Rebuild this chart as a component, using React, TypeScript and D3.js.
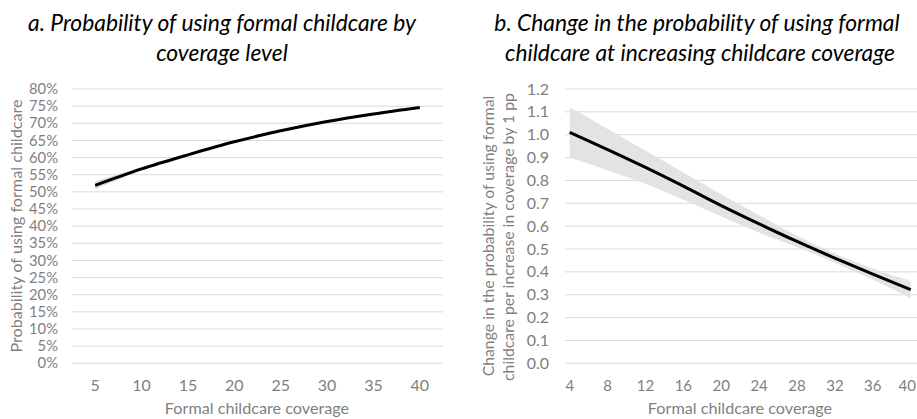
import * as d3 from "d3";

const FONT = "Lato, 'Open Sans', sans-serif";
const GREY = "#7f7f7f";

// panel a
const coverageA = [5, 10, 15, 20, 25, 30, 35, 40];
const probLine = [0.519, 0.567, 0.608, 0.646, 0.678, 0.705, 0.727, 0.746];
const probUpper = [0.530, 0.572, 0.611, 0.648, 0.679, 0.706, 0.728, 0.747];
const probLower = [0.508, 0.562, 0.605, 0.644, 0.677, 0.704, 0.726, 0.745];
const yTicksA = d3.range(0, 0.81, 0.05);

// panel b
const coverageB = [4, 8, 12, 16, 20, 24, 28, 32, 36, 40];
const effLine = [1.01, 0.935, 0.857, 0.775, 0.69, 0.61, 0.533, 0.46, 0.39, 0.322];
const effUpper = [1.12, 1.025, 0.93, 0.835, 0.74, 0.648, 0.558, 0.48, 0.415, 0.36];
const effLower = [0.9, 0.845, 0.785, 0.715, 0.642, 0.572, 0.508, 0.44, 0.365, 0.285];
const yTicksB = d3.range(0, 1.21, 0.1);
const xTicksB = [4, 8, 12, 16, 20, 24, 28, 32, 36, 40];

type Pt = { x: number; y: number; lo: number; hi: number };

function PanelA() {
  const x = d3.scaleLinear().domain([2.5, 42.5]).range([72, 443]);
  const y = d3.scaleLinear().domain([0, 0.8]).range([363.3, 89]);
  const pts: Pt[] = coverageA.map((c, i) => ({ x: c, y: probLine[i], lo: probLower[i], hi: probUpper[i] }));
  const line = d3.line<Pt>().x((d) => x(d.x)).y((d) => y(d.y)).curve(d3.curveMonotoneX);
  const band = d3
    .area<Pt>()
    .x((d) => x(d.x))
    .y0((d) => y(d.lo))
    .y1((d) => y(d.hi))
    .curve(d3.curveMonotoneX);
  return (
    <g>
      <text x={222} y={31} textAnchor="middle" fontSize={22.8} fontStyle="italic" fill="#000">
        a. Probability of using formal childcare by
      </text>
      <text x={222} y={61} textAnchor="middle" fontSize={22.8} fontStyle="italic" fill="#000">
        coverage level
      </text>
      {yTicksA.map((t, i) => (
        <g key={i}>
          <line x1={72} x2={443} y1={y(t)} y2={y(t)} stroke="#d9d9d9" strokeWidth={1} />
          <text x={58} y={y(t)} dy="0.35em" textAnchor="end" fontSize={14.8} fill={GREY}>
            {d3.format(".0%")(t)}
          </text>
        </g>
      ))}
      {coverageA.map((c) => (
        <text key={c} x={x(c)} y={391} textAnchor="middle" fontSize={16} fill={GREY}>
          {c}
        </text>
      ))}
      <path d={band(pts) ?? ""} fill="#d9d9d9" />
      <path d={line(pts) ?? ""} fill="none" stroke="#000" strokeWidth={3} />
      <text
        transform={`translate(22,226) rotate(-90)`}
        textAnchor="middle"
        fontSize={16.2}
        fill={GREY}
      >
        Probability of using formal childcare
      </text>
      <text x={257} y={414} textAnchor="middle" fontSize={16.2} fill={GREY}>
        Formal childcare coverage
      </text>
    </g>
  );
}

function PanelB() {
  const x = d3.scaleLinear().domain([3.5, 40.5]).range([565, 915.4]);
  const y = d3.scaleLinear().domain([0, 1.2]).range([363.3, 89]);
  const pts: Pt[] = coverageB.map((c, i) => ({ x: c, y: effLine[i], lo: effLower[i], hi: effUpper[i] }));
  const line = d3.line<Pt>().x((d) => x(d.x)).y((d) => y(d.y)).curve(d3.curveMonotoneX);
  const band = d3
    .area<Pt>()
    .x((d) => x(d.x))
    .y0((d) => y(d.lo))
    .y1((d) => y(d.hi))
    .curve(d3.curveMonotoneX);
  const last = xTicksB[xTicksB.length - 1];
  return (
    <g>
      <text x={697} y={31} textAnchor="middle" fontSize={22.8} fontStyle="italic" fill="#000">
        b. Change in the probability of using formal
      </text>
      <text x={700} y={61} textAnchor="middle" fontSize={22.8} fontStyle="italic" fill="#000">
        childcare at increasing childcare coverage
      </text>
      {yTicksB.map((t, i) => (
        <g key={i}>
          <line x1={565} x2={917} y1={y(t)} y2={y(t)} stroke="#d9d9d9" strokeWidth={1} />
          <text x={549} y={y(t)} dy="0.35em" textAnchor="end" fontSize={16} fill={GREY}>
            {d3.format(".1f")(t)}
          </text>
        </g>
      ))}
      {xTicksB.map((c) => (
        <text
          key={c}
          x={c === last ? 916 : x(c)}
          y={391}
          textAnchor={c === last ? "end" : "middle"}
          fontSize={15}
          fill={GREY}
        >
          {c}
        </text>
      ))}
      <path d={band(pts) ?? ""} fill="#e3e3e3" />
      <path d={line(pts) ?? ""} fill="none" stroke="#000" strokeWidth={3} />
      <text transform={`translate(494,236) rotate(-90)`} textAnchor="middle" fontSize={15.8} fill={GREY}>
        Change in the probability of using formal
      </text>
      <text transform={`translate(514,237) rotate(-90)`} textAnchor="middle" fontSize={15.8} fill={GREY}>
        childcare per increase in coverage by 1 pp
      </text>
      <text x={740} y={414} textAnchor="middle" fontSize={16.2} fill={GREY}>
        Formal childcare coverage
      </text>
    </g>
  );
}

export default function App() {
  return (
    <svg
      width={917}
      height={419}
      style={{ position: "absolute", left: 0, top: 0, background: "#fff" }}
      fontFamily={FONT}
    >
      <PanelA />
      <PanelB />
    </svg>
  );
}
